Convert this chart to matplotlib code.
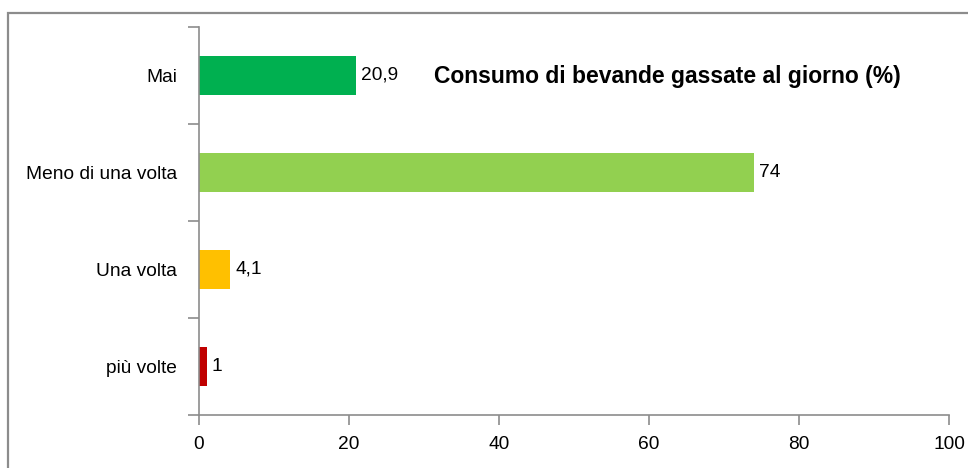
import numpy as np
import matplotlib
matplotlib.use("Agg")
import matplotlib.pyplot as plt
from matplotlib.patches import Rectangle

categories = ["Mai", "Meno di una volta", "Una volta", "più volte"]
values = [20.9, 74, 4.1, 1]
value_labels = ["20,9", "74", "4,1", "1"]
colors = ["#00B050", "#92D050", "#FFC000", "#C00000"]
title = "Consumo di bevande gassate al giorno (%)"

plt.rcParams["font.family"] = ["Liberation Sans", "DejaVu Sans"]

fig = plt.figure(figsize=(9.68, 4.68), dpi=100)
ax = fig.add_axes([199 / 968, 1 - 415 / 468, 750 / 968, 388 / 468])

# bordo esterno del grafico (solo sinistra e sopra visibili)
fig.patches.append(Rectangle((8 / 968, -0.2), 2, 1 - 13 / 468 + 0.2,
                             transform=fig.transFigure, fill=False,
                             edgecolor="#8c8c8c", linewidth=1.6))

y = np.arange(len(categories))
ax.barh(y, values, height=0.41, color=colors)

for yi, v, lab in zip(y, values, value_labels):
    ax.text(v + 0.7, yi, lab, va="center", ha="left", fontsize=13.8)

ax.set_xlim(0, 100)
ax.set_ylim(len(categories) - 0.5, -0.5)
ax.set_xticks([0, 20, 40, 60, 80, 100])
ax.set_yticks(y)
ax.set_yticklabels(categories)
ax.set_yticks(np.arange(len(categories) + 1) - 0.5, minor=True)

ax.tick_params(axis="y", which="major", length=0, pad=16, labelsize=13.8)
ax.tick_params(axis="y", which="minor", length=8, width=1.2, color="#8c8c8c")
ax.tick_params(axis="x", length=7, width=1.2, color="#8c8c8c", pad=8, labelsize=13.8)

for s in ["top", "right"]:
    ax.spines[s].set_visible(False)
for s in ["left", "bottom"]:
    ax.spines[s].set_color("#8c8c8c")
    ax.spines[s].set_linewidth(1.2)

fig.text(667 / 968, 1 - 76 / 468, title, ha="center", va="center",
         fontsize=16.5, fontweight="bold")

fig.savefig("out.png", dpi=100)
